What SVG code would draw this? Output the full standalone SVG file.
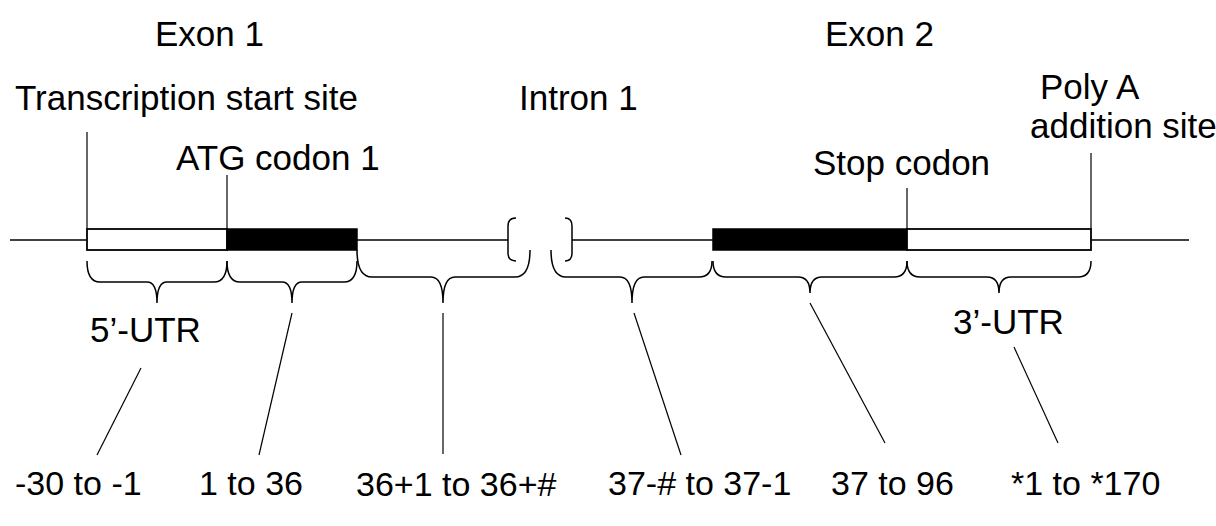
<svg xmlns="http://www.w3.org/2000/svg" width="1216" height="526" viewBox="0 0 1216 526">
<style>
text{font-family:"Liberation Sans",Arial,sans-serif;font-size:35px;fill:#000}
.sm{font-size:34px}
.ln{stroke:#000;stroke-width:1.5;fill:none}
.thin{stroke:#000;stroke-width:1.2;fill:none}
.wbox{fill:#fff;stroke:#000;stroke-width:1.8}
.bbox{fill:#000;stroke:#000;stroke-width:1.5}
</style>
<rect width="1216" height="526" fill="#fff"/>
<g id="gene">
<line class="ln" x1="10" y1="240" x2="87" y2="240"/>
<line class="ln" x1="357" y1="240" x2="508" y2="240"/>
<line class="ln" x1="572" y1="240" x2="713" y2="240"/>
<line class="ln" x1="1091" y1="240" x2="1189" y2="240"/>
<rect class="wbox" x="87" y="229" width="140" height="21"/>
<rect class="bbox" x="227" y="229" width="130" height="21"/>
<rect class="bbox" x="713" y="229" width="194" height="21"/>
<rect class="wbox" x="907" y="229" width="184" height="21"/>
<path class="ln" d="M516,218 Q508,218 508,226 L508,253 Q508,261 516,261"/>
<path class="ln" d="M565,218 Q572,218 572,226 L572,253 Q572,261 565,261"/>
</g>
<g id="labels-top">
<text x="155" y="46">Exon 1</text>
<text x="825" y="46">Exon 2</text>
<text x="15" y="110">Transcription start site</text>
<text x="519" y="110">Intron 1</text>
<text x="1040" y="99">Poly A</text>
<text x="1030" y="138">addition site</text>
<text x="176" y="170">ATG codon 1</text>
<text x="813" y="175">Stop codon</text>
</g>
<g id="ticks">
<line class="thin" x1="87" y1="132" x2="87" y2="229"/>
<line class="thin" x1="227" y1="175" x2="227" y2="229"/>
<line class="thin" x1="907" y1="188" x2="907" y2="229"/>
<line class="thin" x1="1091" y1="153" x2="1091" y2="229"/>
</g>
<g id="braces">
<path class="ln" d="M87,261 Q87,282 100,282 L147,282 Q157,282 157,303 Q157,282 167,282 L214,282 Q227,282 227,261"/>
<path class="ln" d="M227,261 Q227,282 240,282 L282,282 Q292,282 292,303 Q292,282 302,282 L344,282 Q357,282 357,261"/>
<path class="ln" d="M357,250 Q357,277 372,277 L431,277 Q443,277 443,303 Q443,277 455,277 L515,277 Q530,277 530,250"/>
<path class="ln" d="M551,250 Q551,277 566,277 L620,277 Q632,277 632,303 Q632,277 644,277 L699,277 Q712,277 712,261"/>
<path class="ln" d="M713,261 Q713,277 726,277 L798,277 Q810,277 810,293 Q810,277 822,277 L894,277 Q907,277 907,261"/>
<path class="ln" d="M907,261 Q907,277 920,277 L987,277 Q999,277 999,293 Q999,277 1011,277 L1078,277 Q1091,277 1091,261"/>
</g>
<g id="connectors">
<line class="thin" x1="141" y1="368" x2="97" y2="455"/>
<line class="thin" x1="292" y1="313" x2="259" y2="455"/>
<line class="thin" x1="443" y1="313" x2="443" y2="454"/>
<line class="thin" x1="634" y1="313" x2="681" y2="455"/>
<line class="thin" x1="810" y1="303" x2="885" y2="443"/>
<line class="thin" x1="1014" y1="347" x2="1058" y2="443"/>
</g>
<g id="labels-bottom">
<text x="90" y="342">5’-UTR</text>
<text x="953" y="334">3’-UTR</text>
<text class="sm" x="15" y="495">-30 to -1</text>
<text class="sm" x="199" y="495">1 to 36</text>
<text class="sm" x="356" y="496">36+1 to 36+#</text>
<text class="sm" x="608" y="495">37-# to 37-1</text>
<text class="sm" x="831" y="495">37 to 96</text>
<text class="sm" x="1011" y="495">*1 to *170</text>
</g>
</svg>
